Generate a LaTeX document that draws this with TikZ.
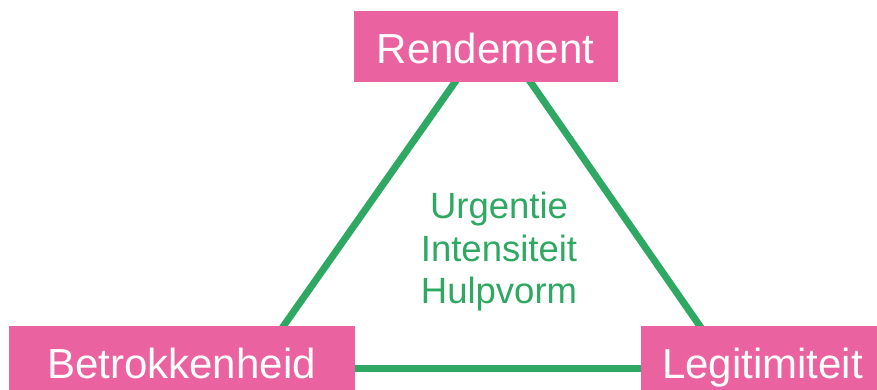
\documentclass[tikz,border=0pt]{standalone}
\usepackage{fontspec}
\setmainfont{Liberation Sans}
\usepackage{tikz}
\definecolor{roze}{RGB}{234,98,160}
\definecolor{groen}{RGB}{46,168,98}
\tikzstyle{pillar}=[fill=roze, draw=roze, text=white, inner sep=0pt, minimum height=70pt, text height=34pt, text depth=0pt, font=\fontsize{42}{50}\selectfont]
\tikzstyle{link}=[draw=groen, line width=7pt]

\begin{document}
\begin{tikzpicture}[x=1pt, y=-1pt]
        \useasboundingbox (0, 0) rectangle (877, 389);
        \coordinate (Ctop) at (493, 28);
        \coordinate (Cleft) at (254, 368);
        \coordinate (Cright) at (729, 368);
        \draw[link] (Ctop) -- (Cleft);
        \draw[link] (Ctop) -- (Cright);
        \draw[link] (Cleft) -- (Cright);
        \node[pillar, minimum width=263pt] (rend) at (485.5, 46) {Rendement};
        \node[pillar, minimum width=345pt] (betr) at (181.5, 361) {Betrokkenheid};
        \node[pillar, minimum width=243pt] (legit) at (762.5, 361) {Legitimiteit};
        \node[text=groen, align=center, font=\fontsize{36.5}{42.5}\selectfont] (crit) at (499, 252) {Urgentie\\Intensiteit\\Hulpvorm};
    \end{tikzpicture}
\end{document}
